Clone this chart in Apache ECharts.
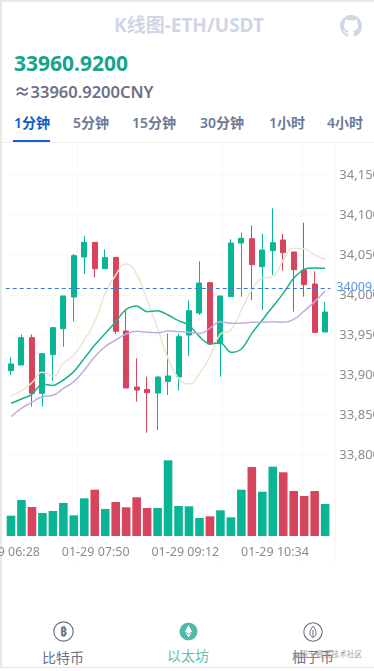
<!DOCTYPE html>
<html><head><meta charset="utf-8">
<style>
html,body{margin:0;padding:0;background:#fff;width:374px;height:671px;overflow:hidden;font-family:"Noto Sans","Noto Sans CJK SC",sans-serif}
#page{position:absolute;left:0;top:0;width:374px;height:668px;box-sizing:border-box;border-left:2px solid #e9e9e9;border-top:2px solid #e9e9e9;border-bottom:1px solid #e4e4e4}
.abs{position:absolute;white-space:nowrap;line-height:1}
#chart{position:absolute;left:0;top:143px;width:374px;height:430px}
.v{position:absolute;top:143px;height:420px;width:1px;background:#f8f8f8}
.tab{position:absolute;top:116px;font-size:14px;font-weight:600;color:#6b7a95;line-height:1;white-space:nowrap}
.lab{position:absolute;font-size:14px;line-height:1;white-space:nowrap;transform:translateX(-50%)}
</style></head><body>
<div id="page"></div>
<div class="abs" style="left:0;width:378px;text-align:center;top:16px;font-size:19px;font-weight:700;color:#d1d6e6">K线图-ETH/USDT</div>
<svg class="abs" style="left:340px;top:15px" width="22" height="22" viewBox="0 0 16 16"><path fill="#d1d6e6" d="M8 0C3.58 0 0 3.58 0 8c0 3.54 2.29 6.53 5.47 7.59.4.07.55-.17.55-.38 0-.19-.01-.82-.01-1.49-2.01.37-2.53-.49-2.69-.94-.09-.23-.48-.94-.82-1.13-.28-.15-.68-.52-.01-.53.63-.01 1.08.58 1.23.82.72 1.21 1.87.87 2.33.66.07-.52.28-.87.51-1.07-1.78-.2-3.64-.89-3.64-3.95 0-.87.31-1.59.82-2.15-.08-.2-.36-1.02.08-2.12 0 0 .67-.21 2.2.82.64-.18 1.32-.27 2-.27s1.36.09 2 .27c1.53-1.04 2.2-.82 2.2-.82.44 1.1.16 1.92.08 2.12.51.56.82 1.27.82 2.15 0 3.07-1.87 3.75-3.65 3.95.29.25.54.73.54 1.48 0 1.07-.01 1.93-.01 2.2 0 .21.15.46.55.38A8.01 8.01 0 0016 8c0-4.42-3.58-8-8-8z"/></svg>
<div class="abs" style="left:14px;top:53px;font-size:21px;font-weight:700;color:#17a488">33960.9200</div>
<div class="abs" style="left:14px;top:84px;font-size:16.5px;font-weight:600;color:#6b7187">≈33960.9200CNY</div>
<div class="tab" style="left:14px;color:#0f5cc8">1分钟</div>
<div class="tab" style="left:73px">5分钟</div>
<div class="tab" style="left:132px">15分钟</div>
<div class="tab" style="left:200px">30分钟</div>
<div class="tab" style="left:269px">1小时</div>
<div class="tab" style="left:327px">4小时</div>
<div class="abs" style="left:13px;top:140px;width:37px;height:2px;background:#0e5fd0"></div>
<div class="abs" style="left:2px;top:142px;width:372px;height:1px;background:#f0f0f0"></div>
<div class="v" style="left:77px"></div><div class="v" style="left:222px"></div><div class="v" style="left:302px"></div><div class="v" style="left:335px"></div>
<div id="chart"></div>
<svg class="abs" style="left:53px;top:621px" width="21" height="21" viewBox="0 0 21 21"><circle cx="10.5" cy="10.5" r="9.7" fill="none" stroke="#6b7187" stroke-width="1.2"/><text x="10.5" y="15" text-anchor="middle" font-size="12" font-weight="700" fill="#6b7187" font-family="Noto Sans">₿</text></svg>
<svg class="abs" style="left:179px;top:622px" width="19" height="19" viewBox="0 0 19 19"><circle cx="9.5" cy="9.5" r="9" fill="#4dbba5"/><path fill="#fff" d="M9.5 3 13 9.4 9.5 11.4 6 9.4Z M9.5 12.4 12.6 10.5 9.5 15.5 6.4 10.5Z"/></svg>
<svg class="abs" style="left:303px;top:622px" width="20" height="20" viewBox="0 0 20 20"><circle cx="10" cy="10" r="9.2" fill="none" stroke="#6b7187" stroke-width="1.1"/><path fill="none" stroke="#6b7187" stroke-width="1" d="M10 4 C6 9 6 14 10 15.5 C14 14 14 9 10 4Z M10 8V15.5"/></svg>
<div class="lab" style="left:63px;top:651px;color:#6b7187">比特币</div>
<div class="lab" style="left:188px;top:649px;color:#5fc0ab">以太坊</div>
<div class="lab" style="left:313px;top:650px;color:#6b7187">柚子币</div>
<div class="abs" style="left:293px;top:651px;font-size:7.8px;color:#a0a0a0">@稀土掘金技术社区</div>
<script src="https://cdn.jsdelivr.net/npm/echarts@6/dist/echarts.min.js"></script>
<script>
const categories=['06:32','06:41','06:51','07:00','07:10','07:20','07:29','07:39','07:48','07:58','08:07','08:17','08:27','08:36','08:46','08:55','09:05','09:15','09:24','09:34','09:43','09:53','10:03','10:12','10:22','10:31','10:41','10:51','11:00','11:10','11:19'];
const opens=[33905.4,33912.5,33946.7,33877.1,33925.4,33957.9,33997.5,34047.5,34065.8,34032.9,34047,33955,33885,33882,33877.5,33892,33897.5,33950,33977.5,34015.4,33939.2,33997.9,34065,34070.4,34035.4,34055.4,34068.75,34053.75,34031.25,34013.75,33953.75];
const closes=[33913.8,33946.7,33877.1,33926.7,33959.2,33998.8,34049.2,34065.8,34032.9,34046.7,33954.6,33883.75,33881.25,33877.9,33897.5,33898.75,33947.9,33980.4,34015,33938.75,33998.75,34065,34070.8,34037.9,34056.25,34065.4,34052.9,34031.7,34012.9,33953.3,33978.75];
const lows=[33900,33912.5,33860.4,33860.4,33892.9,33935.4,33966.7,34026.25,34022,34032.9,33951.25,33883.75,33866.7,33827.9,33831.25,33875,33880.4,33923.75,33975,33938.75,33897.9,33997.9,33997.9,33993.75,33981.25,34025,34030.4,33979.2,33997.9,33953.3,33953.75];
const highs=[33922,33950.8,33950.8,33926.7,33959.2,33998.8,34051.25,34073.75,34065.8,34057,34047,33980,33920.8,33897.9,33898.3,33952,33951.25,33993.3,34042,34015.4,33998.75,34069.6,34077.9,34087,34077,34108.3,34076.25,34053.75,34090.4,34029.6,33991.25];
const ma5=[33874.2,33880.4,33890.4,33903.3,33898.75,33914.6,33925,33943.75,33966.7,34002,34025,34038.75,34026.25,33993.75,33958.3,33920.8,33895.8,33888.75,33902,33922.9,33951.25,33956.25,33981.25,34006.25,34020.8,34022.9,34043.75,34058.3,34057.9,34050,34044.6];
const ma10=[33864.6,33870,33875.9,33888.75,33887,33893.75,33904.2,33920.8,33937.5,33952,33966.7,33982,33986.25,33979.2,33980.4,33975,33967.9,33962.5,33947.9,33938.75,33940.4,33928.3,33932.5,33952,33968.75,33985.4,34002,34020.8,34032,34033.75,34033.3];
const ma20=[33847.9,33858.3,33865.8,33872.9,33874.6,33883.3,33891.7,33906.25,33922.9,33935.4,33943.75,33951.25,33954.6,33953.3,33952.9,33955,33954.2,33953.3,33952,33958.3,33966.7,33964.6,33964.6,33965.8,33965.8,33966.7,33965.8,33969.6,33980,33991.7,34005];
const volumes=[20.3,36,29,23,25,33,20.7,37.7,46.3,27,34,28.7,38.7,28,28,75.7,30,29.7,18,19.7,25.7,18.7,46.3,69,44.3,69.3,63.7,45,40,45,32];
const lastPrice=34009;
const timeTickMinutes=[0,82,164,246];
const timeTickLabels=['01-29 06:28','01-29 07:50','01-29 09:12','01-29 10:34'];
const yMin=33800,yMax=34150,yStep=50;
const UP='#0ab595',DOWN='#d6455d';
const textColor='#8c8c8c';
const L=5.76,W=324.6;
const chart=echarts.init(document.getElementById('chart'),null,{renderer:'canvas'});
const line=(name,data,color,smooth)=>({name,type:'line',data,xAxisIndex:0,yAxisIndex:0,showSymbol:false,symbol:'none',smooth,z:3,lineStyle:{color,width:1.5},itemStyle:{color},silent:true});
chart.setOption({
 animation:false,
 backgroundColor:'transparent',
 grid:[{left:L,width:W,top:32,height:280,outerBoundsMode:'none'},{left:L,width:W,top:313,height:80,outerBoundsMode:'none'}],
 xAxis:[
  {type:'category',gridIndex:0,data:categories,boundaryGap:true,axisLine:{show:false},axisTick:{show:false},axisLabel:{show:false},splitLine:{show:false}},
  {type:'category',gridIndex:1,data:categories,boundaryGap:true,axisLine:{show:false},axisTick:{show:false},axisLabel:{show:false},splitLine:{show:false}},
  {type:'value',gridIndex:1,position:'bottom',min:-0.3,max:296.7,axisLine:{show:false},axisTick:{show:false},splitLine:{show:false},
   axisLabel:{show:true,customValues:timeTickMinutes,hideOverlap:false,showMinLabel:true,showMaxLabel:true,margin:10,color:textColor,fontSize:12.5,fontFamily:'Noto Sans',
    formatter:v=>timeTickLabels[timeTickMinutes.indexOf(v)]||''}}
 ],
 yAxis:[
  {type:'value',gridIndex:0,position:'right',min:yMin,max:yMax,interval:yStep,scale:true,axisLine:{show:false},axisTick:{show:false},
   axisLabel:{margin:9,color:textColor,fontSize:13,fontFamily:'Noto Sans',formatter:v=>v.toLocaleString('en-US')},splitLine:{show:true,lineStyle:{color:'#f9f9f9'}}},
  {type:'value',gridIndex:1,min:0,max:80,show:false}
 ],
 series:[
  {name:'K',type:'candlestick',xAxisIndex:0,yAxisIndex:0,barWidth:5.5,z:2,
   data:opens.map((o,i)=>[o,closes[i],lows[i],highs[i]]),
   itemStyle:{color:UP,color0:DOWN,borderColor:UP,borderColor0:DOWN,borderWidth:1},
   markLine:{silent:true,symbol:'none',animation:false,data:[{yAxis:lastPrice}],
    lineStyle:{color:'#3f78cf',type:[4,3],width:1},
    label:{position:'end',distance:6,color:'#5f93e0',fontSize:12.5,fontFamily:'Noto Sans',formatter:()=>lastPrice+'.'}}},
  line('MA5',ma5,'#efe5cf',true),
  line('MA10',ma10,'#17b28e',0.3),
  line('MA20',ma20,'#c0aee3',true),
  {name:'Volume',type:'bar',xAxisIndex:1,yAxisIndex:1,barWidth:8.6,data:volumes.map((v,i)=>({value:v,itemStyle:{color:closes[i]>=opens[i]?UP:DOWN}}))}
 ]
});
</script>
</body></html>
